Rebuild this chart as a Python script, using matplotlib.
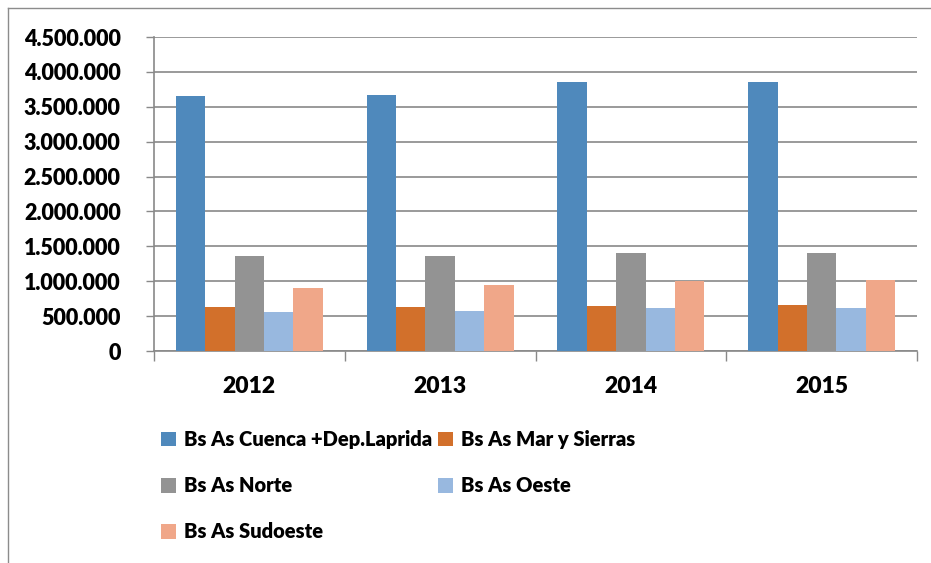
import matplotlib
matplotlib.use("Agg")
import matplotlib.pyplot as plt
import numpy as np
from matplotlib.ticker import FuncFormatter, FixedLocator
from matplotlib.lines import Line2D

plt.rcParams['font.family'] = ['Lato', 'DejaVu Sans']
plt.rcParams['font.weight'] = 'heavy'

# data
years = ['2012', '2013', '2014', '2015']
series = ['Bs As Cuenca +Dep.Laprida', 'Bs As Mar y Sierras', 'Bs As Norte',
          'Bs As Oeste', 'Bs As Sudoeste']
cuenca = [3652000, 3666000, 3853000, 3853000]
mar_sierras = [630000, 630000, 644000, 659000]
norte = [1360000, 1360000, 1403000, 1403000]
oeste = [558000, 573000, 616000, 616000]
sudoeste = [902000, 945000, 1003000, 1017000]
values = [cuenca, mar_sierras, norte, oeste, sudoeste]
colors = ['#4F89BC', '#D2702B', '#939393', '#98B8DF', '#F0A789']

W, H = 931, 563
fig = plt.figure(figsize=(W / 100, H / 100), dpi=100)
ax = fig.add_axes([154 / W, 1 - 351 / H, (917 - 154) / W, (351 - 37) / H])

x = np.arange(len(years))
w = 0.154
bars = []
for j, (name, vals, c) in enumerate(zip(series, values, colors)):
    b = ax.bar(x + (j - 2) * w, vals, w, color=c, label=name, zorder=3)
    bars.append(b)

ax.set_xlim(-0.5, 3.5)
ax.set_ylim(0, 4500000)
ax.set_yticks(np.arange(0, 4500001, 500000))
ax.yaxis.set_major_formatter(FuncFormatter(lambda v, p: f"{int(v):,}".replace(",", ".")))
ax.yaxis.grid(True, color='#898989', linewidth=1.2, zorder=0)

ax.set_xticks(x)
ax.set_xticklabels(years)
ax.xaxis.set_minor_locator(FixedLocator(np.arange(-0.5, 3.6, 1)))
ax.tick_params(axis='x', which='major', length=0, pad=18, labelsize=16.5)
ax.tick_params(axis='x', which='minor', length=7, width=1, color='#898989')
ax.tick_params(axis='y', length=6, width=1, color='#898989', labelsize=15.5, pad=18)

for s in ['top', 'right']:
    ax.spines[s].set_visible(False)
for s in ['left', 'bottom']:
    ax.spines[s].set_color('#898989')
    ax.spines[s].set_linewidth(1.2)

order = [0, 2, 4, 1, 3]
leg = ax.legend([bars[i] for i in order], [series[i] for i in order], ncol=2,
                loc='upper left', bbox_to_anchor=(161 / W, 1 - 430 / H),
                bbox_transform=fig.transFigure, frameon=False, fontsize=14.5,
                handlelength=0.75, handleheight=0.75, handletextpad=0.4,
                labelspacing=1.35, columnspacing=0.3, borderaxespad=0, borderpad=0)

# outer chart border (left and top)
fig.add_artist(Line2D([8 / W, 8 / W], [0, 1 - 8 / H], transform=fig.transFigure,
                      color='#8c8c8c', linewidth=1))
fig.add_artist(Line2D([8 / W, 1], [1 - 8 / H, 1 - 8 / H], transform=fig.transFigure,
                      color='#8c8c8c', linewidth=1))

fig.savefig('out.png', dpi=100)
